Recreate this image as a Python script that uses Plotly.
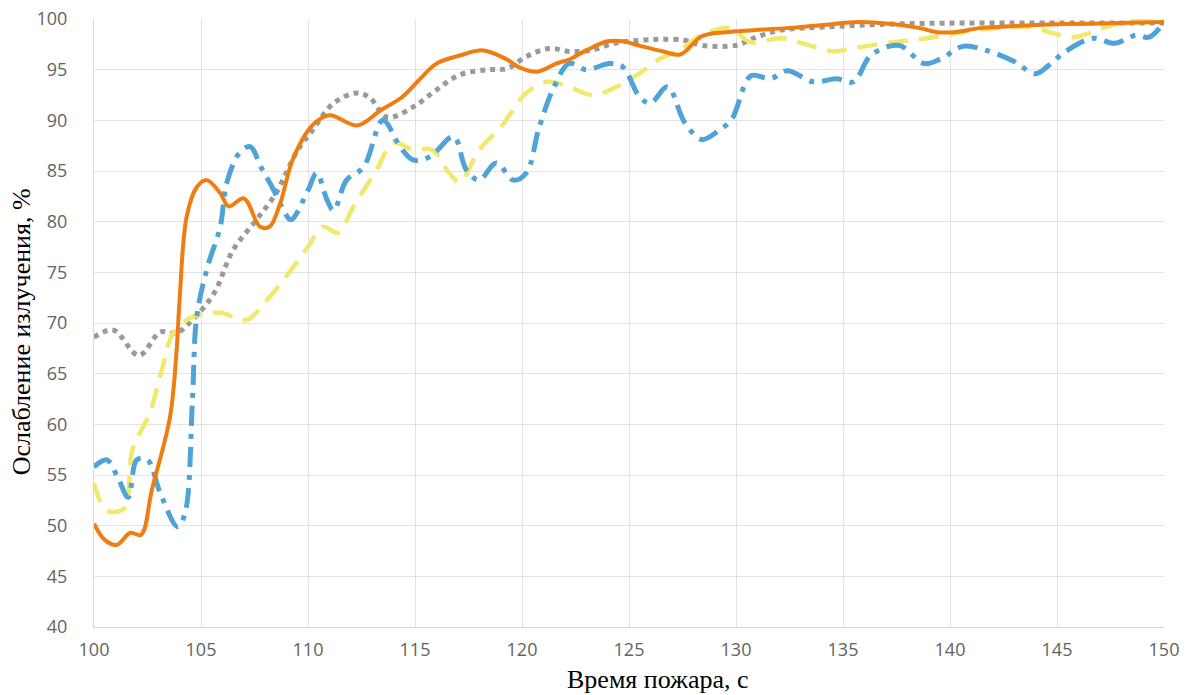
import plotly.graph_objects as go

# Orange solid
orange_x = [100.0, 100.5, 101.06, 101.7, 102.2, 102.7, 103.55, 103.86, 104.0, 104.33, 104.8, 105.27, 105.9, 106.3,
            107.0, 107.76, 108.2, 108.7, 109.3, 110.2, 111.0, 112.3, 113.4, 114.4, 115.2, 116.0, 117.1, 118.2,
            119.3, 119.9, 120.7, 121.6, 122.2, 123.0, 124.0, 124.7, 125.6, 126.6, 127.4, 128.4, 129.5, 130.8,
            132.4, 134.1, 135.7, 137.3, 138.6, 139.4, 140.2, 141.4, 143.0, 145.4, 147.9, 150.0]
orange_y = [50.2, 48.6, 48.1, 49.3, 49.1, 53.5, 60.7, 67.3, 72.3, 80.5, 83.4, 84.1, 82.8, 81.5,
            82.3, 79.5, 79.5, 81.8, 86.2, 89.5, 90.5, 89.5, 91.0, 92.3, 94.0, 95.6, 96.4, 96.9,
            96.0, 95.2, 94.8, 95.6, 96.0, 96.9, 97.8, 97.8, 97.3, 96.8, 96.5, 98.3, 98.7, 98.9,
            99.1, 99.4, 99.7, 99.5, 99.1, 98.7, 98.7, 99.1, 99.3, 99.5, 99.6, 99.7]

# Gray dotted
gray_x = [100.0, 100.9, 102.1, 103.1, 103.86, 104.6, 105.6, 106.5, 107.6, 108.5, 109.5, 110.2, 111.2, 112.3,
          112.9, 113.7, 114.9, 116.0, 117.1, 118.4, 119.3, 120.2, 121.3, 122.2, 123.2, 124.3, 125.5, 126.5,
          127.6, 128.4, 130.0, 130.8, 132.1, 134.1, 137.3, 140.6, 145.0, 150.0]
gray_y = [68.6, 69.3, 66.8, 69.1, 69.0, 70.3, 72.9, 77.2, 80.2, 82.8, 87.0, 89.0, 91.7, 92.7,
          92.2, 90.3, 91.3, 93.0, 94.5, 95.0, 95.1, 96.3, 97.1, 96.8, 96.9, 97.6, 97.9, 98.0,
          97.9, 97.4, 97.4, 98.1, 98.9, 99.2, 99.5, 99.6, 99.6, 99.6]

# Yellow dashed
yellow_x = [100.0, 100.6, 101.4, 101.8, 102.6, 103.2, 103.7, 104.6, 105.9, 107.1, 108.1, 109.3, 110.0, 110.7,
            111.4, 112.1, 113.2, 114.0, 114.9, 115.8, 116.6, 117.1, 118.0, 119.0, 120.2, 121.2, 122.2, 123.3,
            124.3, 125.4, 126.4, 127.4, 128.4, 129.7, 130.7, 132.1, 133.1, 134.6, 135.4, 137.3, 138.9, 140.6,
            142.2, 143.9, 144.8, 145.8, 146.9, 148.1, 150.0]
yellow_y = [54.2, 51.5, 51.7, 57.5, 61.1, 65.6, 69.0, 70.6, 71.0, 70.3, 72.3, 75.5, 77.5, 79.5,
            78.9, 81.4, 85.1, 87.8, 87.1, 87.1, 84.8, 83.9, 87.1, 89.3, 92.7, 93.8, 93.3, 92.5,
            93.2, 94.5, 96.0, 97.0, 98.4, 99.1, 97.7, 98.1, 97.6, 96.8, 97.1, 97.7, 98.1, 98.7,
            99.1, 99.2, 98.6, 98.2, 98.9, 99.7, 99.9]

# Blue dash-dot
blue_x = [100.0, 100.6, 101.1, 101.6, 102.0, 102.5, 103.1, 103.9, 104.25, 104.6, 104.8, 105.3, 105.9, 106.2,
          106.8, 107.3, 107.8, 108.4, 108.8, 109.2, 110.0, 110.4, 110.9, 111.2, 111.8, 112.6, 113.5, 114.3,
          114.9, 115.7, 116.8, 117.4, 118.0, 118.8, 119.6, 120.2, 120.8, 121.5, 122.2, 123.0, 124.1, 124.7,
          125.5, 126.0, 126.8, 127.6, 128.4, 129.2, 129.8, 130.7, 131.6, 132.4, 133.6, 134.7, 135.5, 136.3,
          137.6, 138.8, 139.6, 140.6, 141.7, 143.0, 144.0, 144.6, 145.4, 146.7, 147.7, 148.7, 149.3, 150.0]
blue_y = [55.8, 56.5, 54.8, 52.8, 56.5, 56.5, 53.2, 49.9, 51.2, 62.4, 70.6, 75.5, 79.5, 83.8,
          86.8, 87.4, 85.4, 83.1, 81.4, 80.2, 83.1, 84.8, 82.1, 81.1, 84.1, 85.4, 90.0, 87.4,
          86.1, 86.4, 88.4, 85.1, 84.1, 85.8, 84.1, 84.8, 89.3, 93.3, 95.6, 95.0, 95.6, 95.3,
          92.3, 91.7, 93.3, 89.8, 88.1, 89.0, 90.1, 94.4, 94.1, 94.9, 93.8, 94.1, 93.8, 96.4,
          97.4, 95.6, 96.1, 97.3, 96.9, 95.8, 94.6, 95.4, 96.8, 98.1, 97.6, 98.4, 98.2, 99.7]

x_ticks = [100, 105, 110, 115, 120, 125, 130, 135, 140, 145, 150]
y_ticks = [40, 45, 50, 55, 60, 65, 70, 75, 80, 85, 90, 95, 100]
x_title = "Время пожара, с"
y_title = "Ослабление излучения, %"

fig = go.Figure()
fig.add_trace(go.Scatter(x=gray_x, y=gray_y, mode="lines", line=dict(color="#9a9a9a", width=5, dash="dot", shape="spline", smoothing=1.0)))
fig.add_trace(go.Scatter(x=yellow_x, y=yellow_y, mode="lines", line=dict(color="#f1e86e", width=4.5, dash="20px,11px", shape="spline", smoothing=1.0)))
fig.add_trace(go.Scatter(x=blue_x, y=blue_y, mode="lines", line=dict(color="#4fa3d6", width=5, dash="20px,8px,5px,8px", shape="spline", smoothing=1.0)))
fig.add_trace(go.Scatter(x=orange_x, y=orange_y, mode="lines", line=dict(color="#ef7d0f", width=4, shape="spline", smoothing=1.0)))

serif = "Liberation Serif, Times New Roman, serif"
fig.update_layout(
    width=1194, height=695,
    margin=dict(l=94, r=30, t=19, b=68),
    paper_bgcolor="white", plot_bgcolor="white",
    showlegend=False,
    font=dict(family="Open Sans, DejaVu Sans, sans-serif", color="#636363", size=18),
    annotations=[
        dict(text=x_title, xref="paper", yref="paper", x=0.527, y=-0.087, xanchor="center", yanchor="middle",
             showarrow=False, font=dict(family=serif, size=26, color="black")),
        dict(text=y_title, xref="paper", yref="paper", x=-0.068, y=0.485, xanchor="center", yanchor="middle",
             textangle=-90, showarrow=False, font=dict(family=serif, size=26, color="black")),
    ],
)
fig.update_xaxes(
    range=[100, 150], tickvals=x_ticks, ticktext=[str(v) for v in x_ticks],
    showgrid=True, gridcolor="#e3e3e3", gridwidth=1, zeroline=False,
    showline=True, linecolor="#d9d9d9", linewidth=1,
    ticks="", ticklabelstandoff=6, automargin=False, ticklabeloverflow="allow",
)
fig.update_yaxes(
    range=[40, 100], tickvals=y_ticks, ticktext=[str(v) for v in y_ticks],
    showgrid=True, gridcolor="#e3e3e3", gridwidth=1, zeroline=False,
    showline=True, linecolor="#d9d9d9", linewidth=1,
    ticks="", ticklabelstandoff=22, automargin=False, ticklabeloverflow="allow",
)
fig.write_html("out.html", config={"displayModeBar": False},
               post_script="document.body.style.margin='0px';")
